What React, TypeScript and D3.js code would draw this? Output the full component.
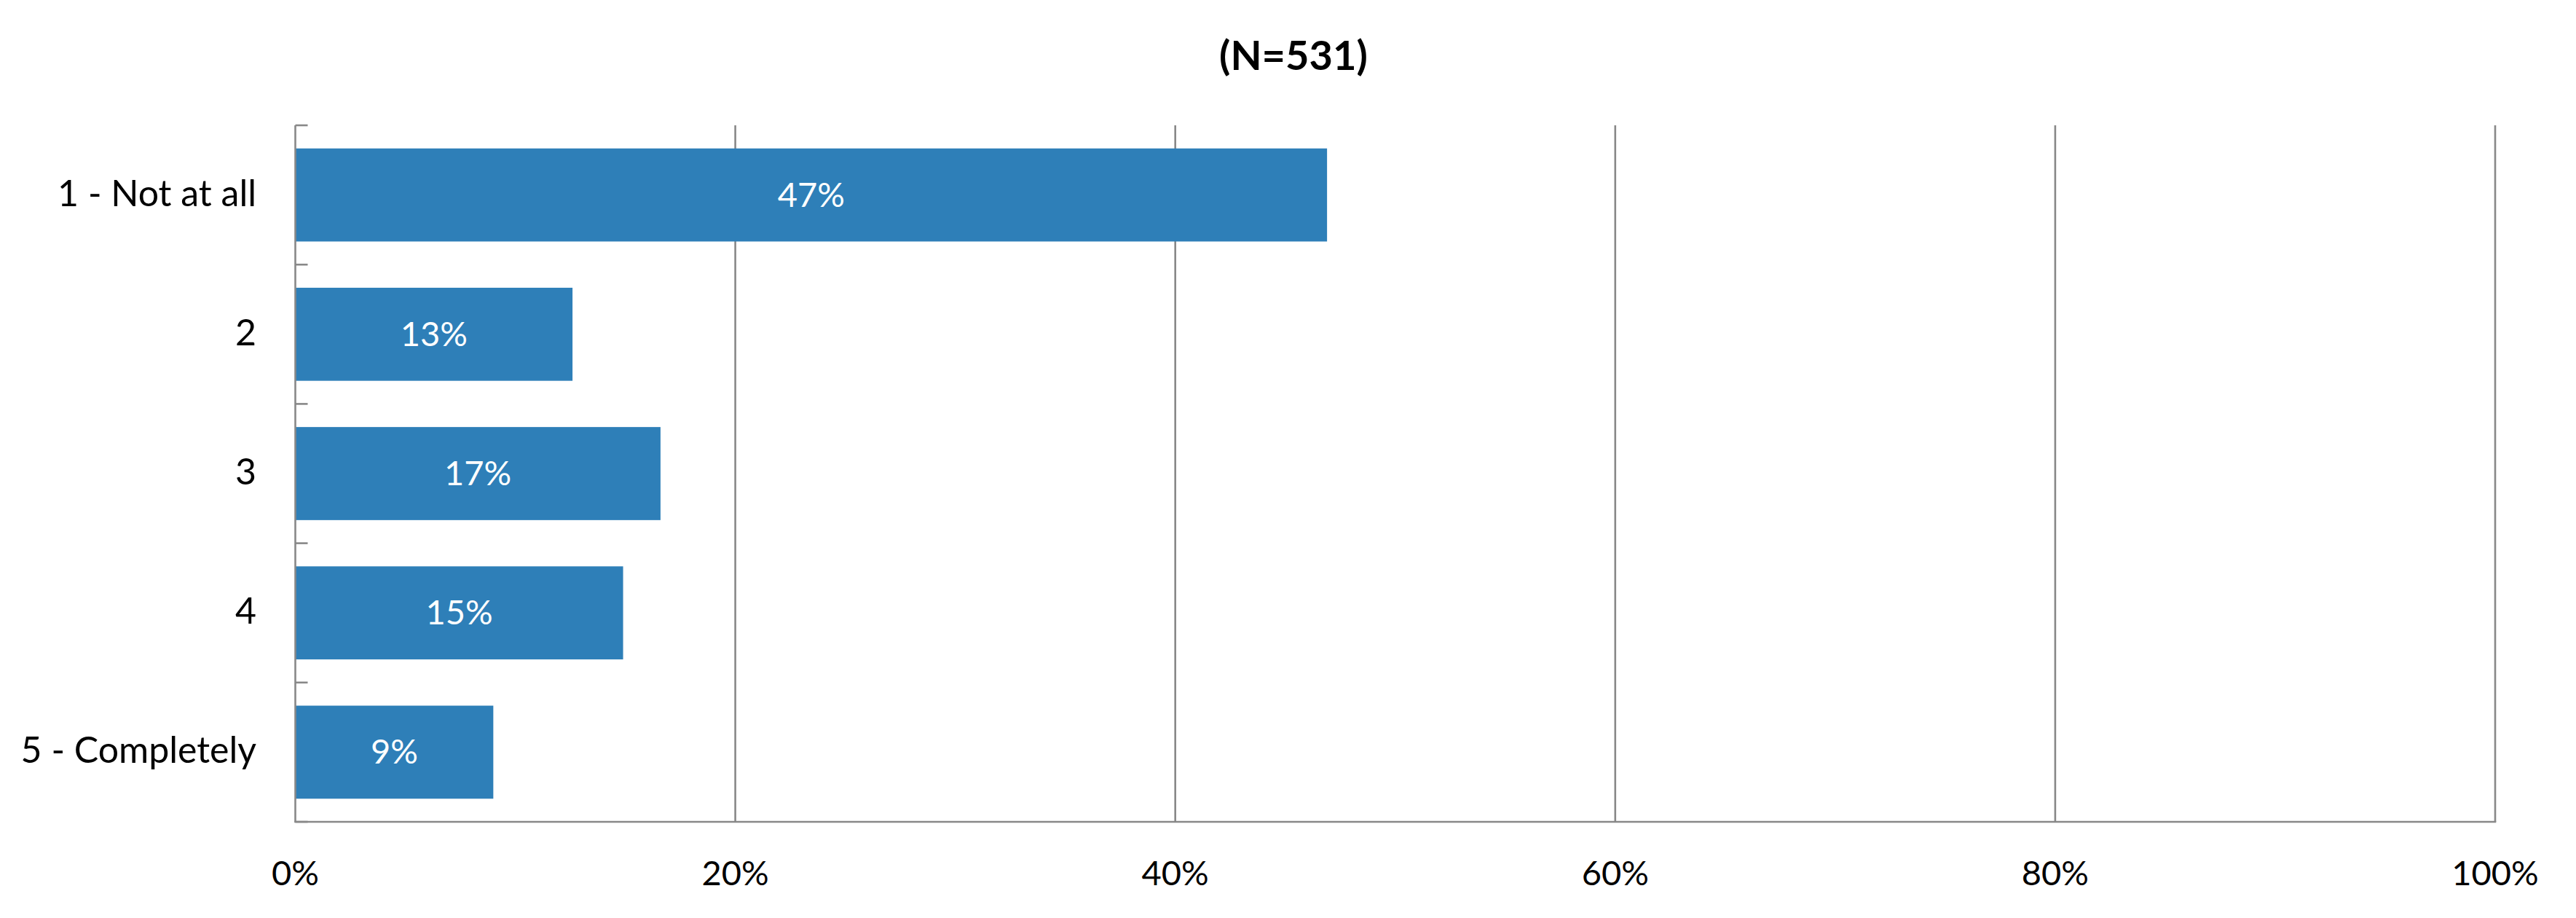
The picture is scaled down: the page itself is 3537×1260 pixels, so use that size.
import React from "react";
import * as d3 from "d3";

const title = "(N=531)";
const categories = ["1 - Not at all", "2", "3", "4", "5 - Completely"];
const values = [0.469, 0.126, 0.166, 0.149, 0.09];
const valueLabels = ["47%", "13%", "17%", "15%", "9%"];
const xTicks = [0, 0.2, 0.4, 0.6, 0.8, 1.0];

const W = 3537;
const H = 1260;
const FONT = "Lato, 'Open Sans', sans-serif";
const GRID = "#888888";
const BAR = "#2E7FB8";

export default function App() {
  if (typeof document !== "undefined") document.body.style.margin = "0";
  const x = d3.scaleLinear().domain([0, 1]).range([405.5, 3426]);
  const y = d3
    .scaleBand<string>()
    .domain(categories)
    .range([172, 1128])
    .paddingInner(0.332)
    .paddingOuter(0.166);
  const step = y.step();
  const [y0, y1] = y.range();
  const boundaries = d3.range(categories.length + 1).map((i) => y0 + i * step);

  return (
    <svg
      width={W}
      height={H}
      viewBox={`0 0 ${W} ${H}`}
      style={{ position: "absolute", left: 0, top: 0, background: "#fff" }}
    >
      <rect x={0} y={0} width={W} height={H} fill="#fff" />
      <text
        x={1776}
        y={96}
        textAnchor="middle"
        fontFamily={FONT}
        fontWeight="bold"
        fontSize={56}
        fill="#000"
      >
        {title}
      </text>
      {/* gridlines */}
      {xTicks.slice(1).map((t) => (
        <line
          key={"g" + t}
          x1={x(t)}
          x2={x(t)}
          y1={y0}
          y2={y1}
          stroke={GRID}
          strokeWidth={2.6}
        />
      ))}
      {/* bars */}
      {categories.map((c, i) => (
        <rect
          key={c}
          x={x(0)}
          y={y(c)}
          width={x(values[i]) - x(0)}
          height={y.bandwidth()}
          fill={BAR}
        />
      ))}
      {/* data labels */}
      {categories.map((c, i) => (
        <text
          key={"l" + c}
          x={(x(0) + x(values[i])) / 2}
          y={(y(c) as number) + y.bandwidth() / 2 + 16}
          textAnchor="middle"
          fontFamily={FONT}
          fontSize={47}
          fill="#fff"
        >
          {valueLabels[i]}
        </text>
      ))}
      {/* left axis */}
      <line x1={x(0)} x2={x(0)} y1={y0} y2={y1} stroke={GRID} strokeWidth={2.6} />
      {boundaries.map((b, i) => (
        <line
          key={"t" + i}
          x1={x(0)}
          x2={x(0) + 17}
          y1={b}
          y2={b}
          stroke={GRID}
          strokeWidth={2.6}
        />
      ))}
      {/* bottom axis */}
      <line x1={x(0) - 1.3} x2={x(1) + 1.3} y1={y1} y2={y1} stroke={GRID} strokeWidth={2.6} />
      {/* category labels */}
      {categories.map((c) => (
        <text
          key={"c" + c}
          x={352}
          y={(y(c) as number) + y.bandwidth() / 2 + 15}
          textAnchor="end"
          fontFamily={FONT}
          fontSize={50}
          fill="#000"
        >
          {c}
        </text>
      ))}
      {/* x tick labels */}
      {xTicks.map((t) => (
        <text
          key={"x" + t}
          x={x(t)}
          y={1215}
          textAnchor="middle"
          fontFamily={FONT}
          fontSize={47}
          fill="#000"
        >
          {d3.format(".0%")(t)}
        </text>
      ))}
    </svg>
  );
}
